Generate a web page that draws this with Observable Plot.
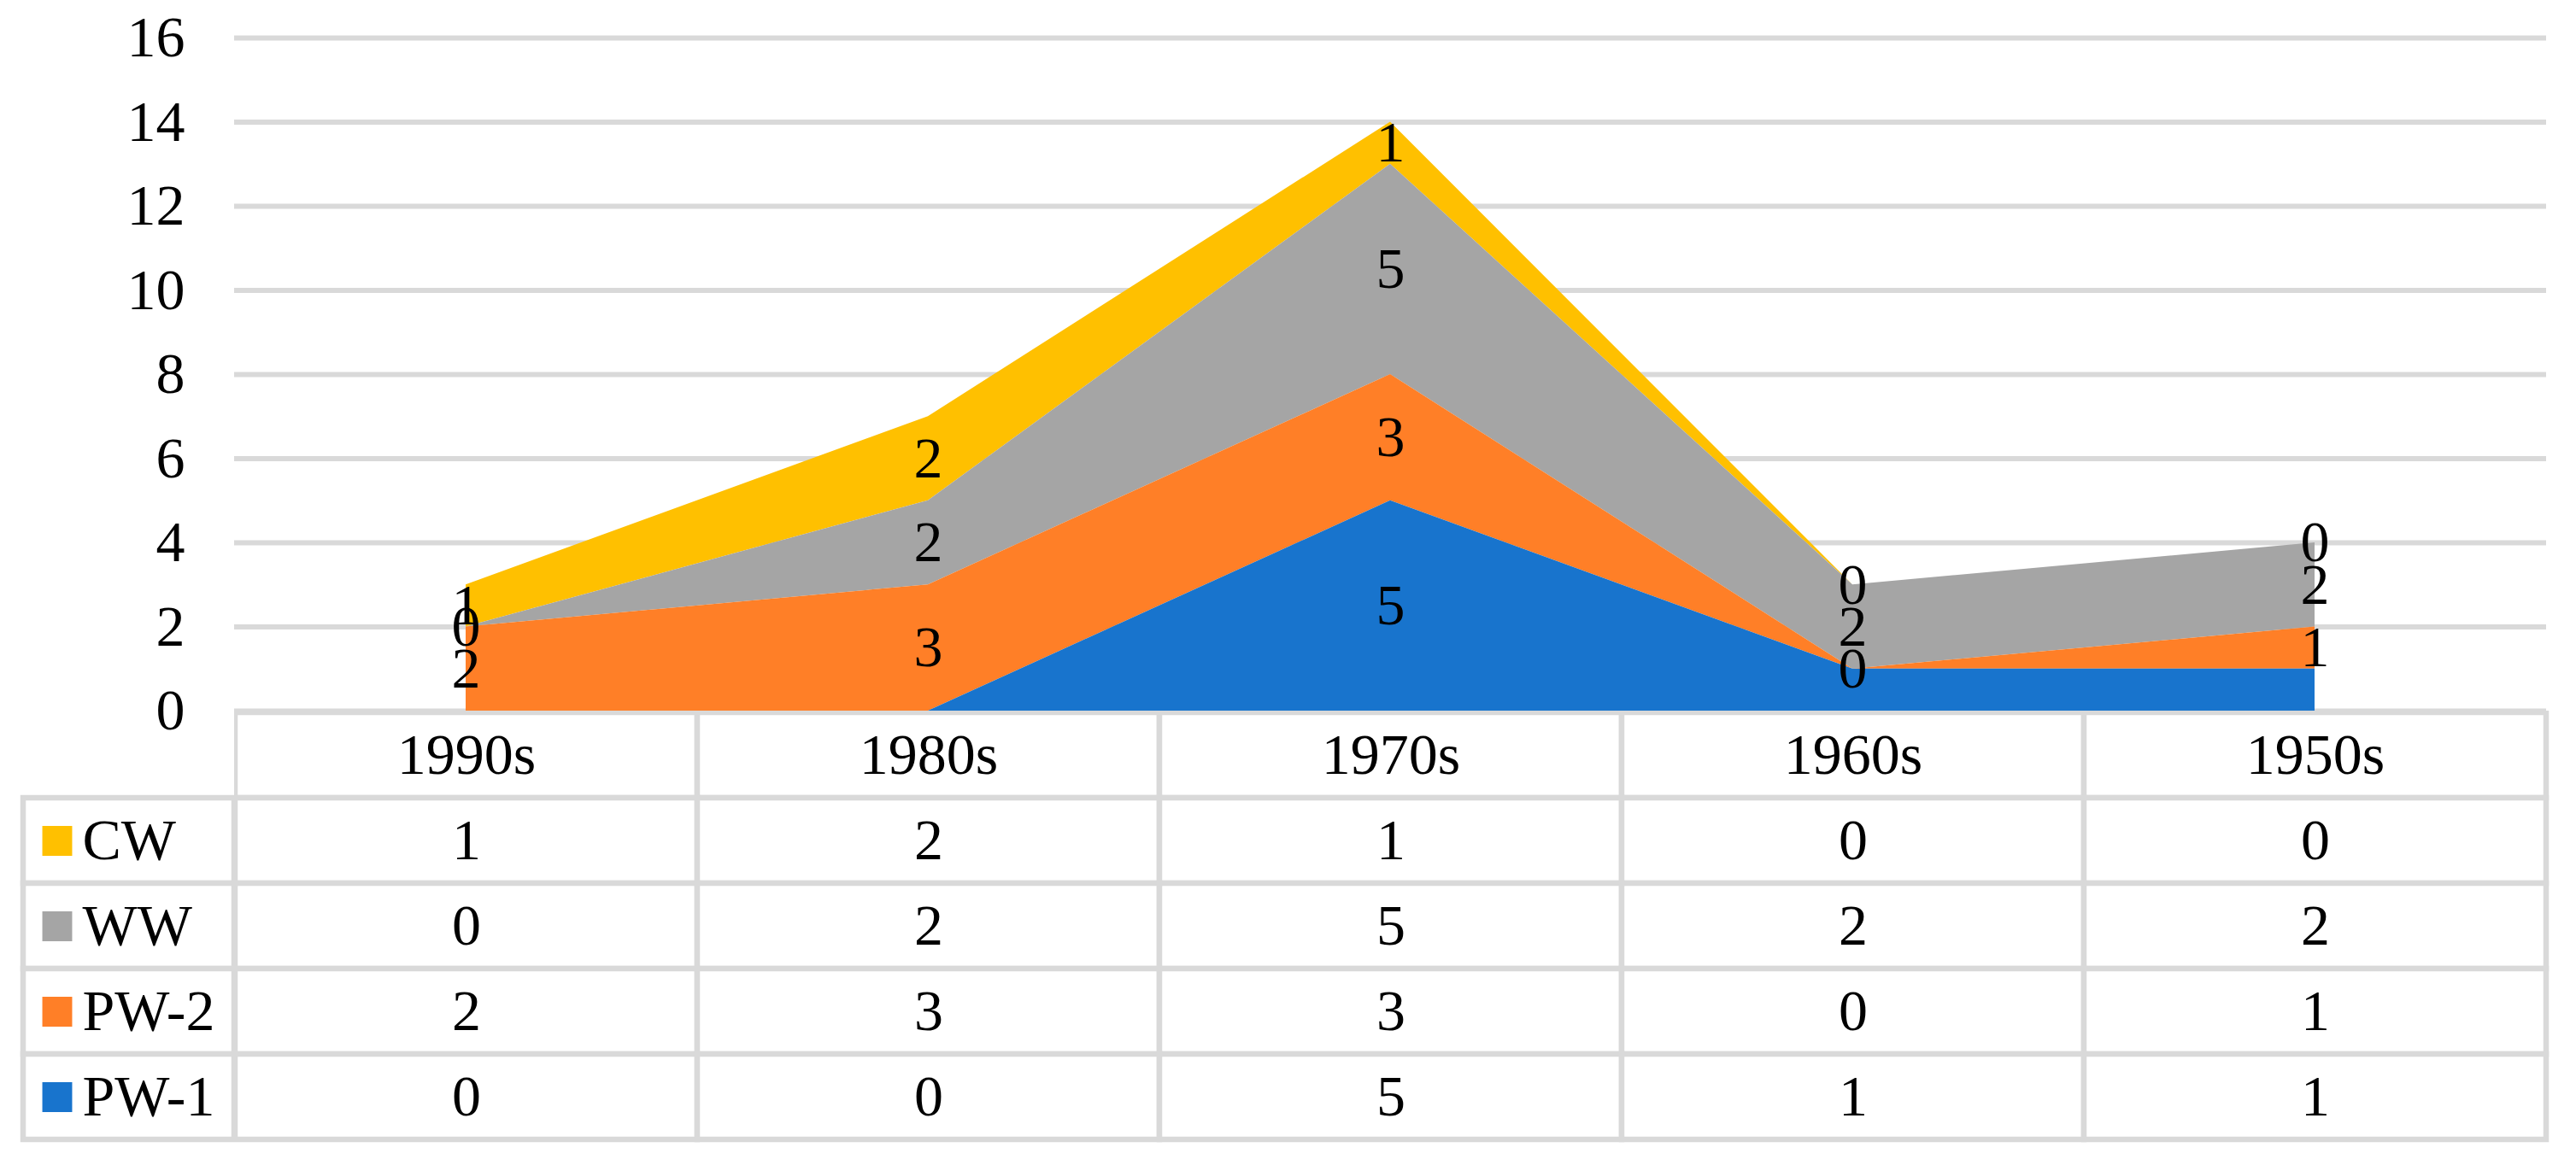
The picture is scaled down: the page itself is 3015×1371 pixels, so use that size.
<!DOCTYPE html>
<html>
<head>
<meta charset="utf-8">
<script src="https://cdn.jsdelivr.net/npm/d3@7"></script>
<script src="https://cdn.jsdelivr.net/npm/@observablehq/plot@0.6"></script>
<style>
  html, body { margin: 0; padding: 0; background: #ffffff; }
  #wrap { width: 3015px; height: 1371px; background: #ffffff; overflow: hidden; }
  #wrap svg { display: block; }
  #chart { position: relative; z-index: 2; }
  .row { display: flex; flex-direction: row; margin-top: -41px; position: relative; z-index: 1; }
</style>
</head>
<body>
<div id="wrap">
  <div id="chart"></div>
  <div class="row"><div id="legend"></div><div id="table"></div></div>
</div>
<script>
// ---- data ----
const categories = ["1990s", "1980s", "1970s", "1960s", "1950s"];
const seriesNames = ["CW", "WW", "PW-2", "PW-1"];          // table order, top to bottom
const cwValues  = [1, 2, 1, 0, 0];
const wwValues  = [0, 2, 5, 2, 2];
const pw2Values = [2, 3, 3, 0, 1];
const pw1Values = [0, 0, 5, 1, 1];
const seriesColors = ["#FFC000", "#A5A5A5", "#FF7F27", "#1874CD"];
const stackOrder = ["PW-1", "PW-2", "WW", "CW"];             // bottom to top
const yTicks = [0, 2, 4, 6, 8, 10, 12, 14, 16];
const pw1LabelledDecades = ["1970s"];                        // PW-1 data labels visible only here

// ---- build long table ----
const valuesBySeries = {"CW": cwValues, "WW": wwValues, "PW-2": pw2Values, "PW-1": pw1Values};
const rows = seriesNames.flatMap(s => categories.map((c, i) => ({series: s, decade: c, value: valuesBySeries[s][i]})));
const headerCells = categories.map(c => ({series: "", decade: c}));

const FONT = "Liberation Serif, 'Times New Roman', serif";
const FS = 68;
const GRID = "#d9d9d9";
const colorScale = {domain: seriesNames, range: seriesColors};

// ---- chart ----
const chart = Plot.plot({
  width: 3015, height: 873,
  marginLeft: 274, marginRight: 35, marginTop: 44, marginBottom: 41,
  style: {fontFamily: FONT, fontSize: FS + "px", background: "transparent", color: "#000000", overflow: "visible"},
  x: {type: "point", domain: categories, padding: 0.5, axis: null},
  y: {domain: [0, 16], axis: null},
  color: colorScale,
  marks: [
    Plot.gridY(yTicks, {stroke: GRID, strokeOpacity: 1, strokeWidth: 6}),
    Plot.axisY(yTicks, {label: null, tickSize: 0, tickPadding: 58, fontSize: FS, tickFormat: d => String(d), fill: "#000000"}),
    Plot.areaY(rows, {x: "decade", y: "value", z: "series", fill: "series", order: stackOrder, fillOpacity: 1}),
    Plot.text(rows, Plot.stackY({
      x: "decade", y: "value", z: "series", order: stackOrder,
      text: d => (d.series === "PW-1" && !pw1LabelledDecades.includes(d.decade)) ? "" : String(d.value),
      fill: "#000000", fontSize: FS
    }))
  ]
});
document.getElementById("chart").appendChild(chart);

// ---- legend column of the data table ----
const rowDomain = ["", ...seriesNames];
const legend = Plot.plot({
  width: 274, height: 539,
  marginLeft: 27, marginRight: 0, marginTop: 0, marginBottom: 35,
  style: {fontFamily: FONT, fontSize: FS + "px", background: "#ffffff", color: "#000000"},
  y: {type: "band", domain: rowDomain, padding: 0, axis: null},
  color: colorScale,
  marks: [
    Plot.cell(seriesNames, {y: d => d, fill: "#ffffff", stroke: GRID, strokeWidth: 6.5}),
    Plot.dot(seriesNames, {y: d => d, frameAnchor: "left", dx: 39.5, symbol: "square", r: 19.7, fill: d => d, stroke: null}),
    Plot.text(seriesNames, {y: d => d, frameAnchor: "left", textAnchor: "start", dx: 69, text: d => d, fontSize: FS, fill: "#000000"})
  ]
});
document.getElementById("legend").appendChild(legend);

// ---- data table ----
const table = Plot.plot({
  width: 2741, height: 539,
  marginLeft: 0, marginRight: 35, marginTop: 0, marginBottom: 35,
  style: {fontFamily: FONT, fontSize: FS + "px", background: "#ffffff", color: "#000000"},
  x: {type: "band", domain: categories, padding: 0, axis: null},
  y: {type: "band", domain: rowDomain, padding: 0, axis: null},
  marks: [
    Plot.cell([...headerCells, ...rows], {x: "decade", y: "series", fill: "#ffffff", stroke: GRID, strokeWidth: 6.5}),
    Plot.text(headerCells, {x: "decade", y: "series", text: "decade", fontSize: FS, fill: "#000000"}),
    Plot.text(rows, {x: "decade", y: "series", text: d => String(d.value), fontSize: FS, fill: "#000000"})
  ]
});
document.getElementById("table").appendChild(table);
</script>
</body>
</html>
